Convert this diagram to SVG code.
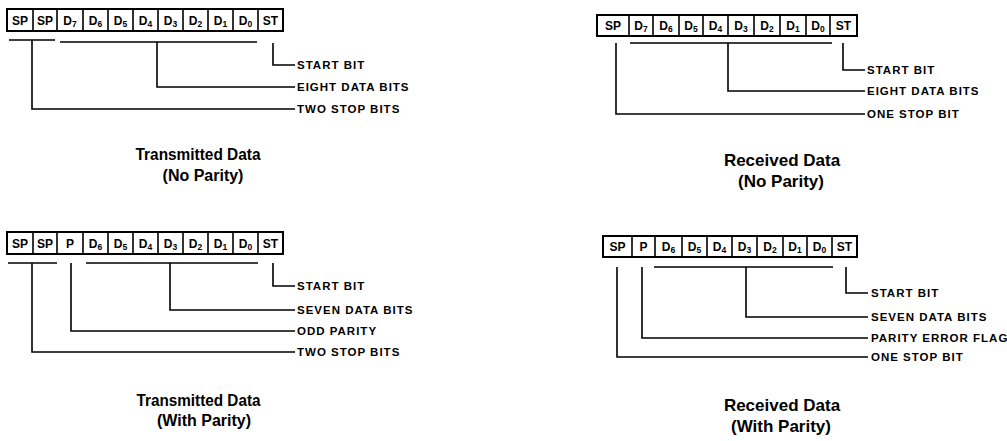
<svg xmlns="http://www.w3.org/2000/svg" width="1007" height="441" viewBox="0 0 1007 441">
<style>
.frame{fill:#fff;stroke:#000;stroke-width:2}
.div{stroke:#000;stroke-width:1.6}
.cl{font-family:"Liberation Sans",Arial,sans-serif;font-weight:bold;font-size:12px;text-anchor:middle;fill:#000}
.sub{font-size:8.5px}
.lbl{font-family:"Liberation Sans",Arial,sans-serif;font-weight:bold;font-size:11.5px;letter-spacing:1px;fill:#000}
.cap{font-family:"Liberation Sans",Arial,sans-serif;font-weight:bold;font-size:16px;text-anchor:middle;fill:#000}
.capr{font-family:"Liberation Sans",Arial,sans-serif;font-weight:bold;font-size:17px;text-anchor:middle;fill:#000}
.wire{fill:none;stroke:#000;stroke-width:1.6}
</style>
<rect width="1007" height="441" fill="#fff"/>

<g id="reg-tx-noparity">
<rect class="frame" x="7" y="9" width="276" height="22"/>
<path class="div" d="M33 9V31M57 9V31M83 9V31M108 9V31M133 9V31M158 9V31M183 9V31M208 9V31M233 9V31M258 9V31"/>
<text class="cl" x="20" y="24.5">SP</text>
<text class="cl" x="45" y="24.5">SP</text>
<text class="cl" x="70" y="24.5">D<tspan class="sub" dy="2">7</tspan></text>
<text class="cl" x="95.5" y="24.5">D<tspan class="sub" dy="2">6</tspan></text>
<text class="cl" x="120.5" y="24.5">D<tspan class="sub" dy="2">5</tspan></text>
<text class="cl" x="145.5" y="24.5">D<tspan class="sub" dy="2">4</tspan></text>
<text class="cl" x="170.5" y="24.5">D<tspan class="sub" dy="2">3</tspan></text>
<text class="cl" x="195.5" y="24.5">D<tspan class="sub" dy="2">2</tspan></text>
<text class="cl" x="220.5" y="24.5">D<tspan class="sub" dy="2">1</tspan></text>
<text class="cl" x="245.5" y="24.5">D<tspan class="sub" dy="2">0</tspan></text>
<text class="cl" x="270.5" y="24.5">ST</text>
</g>

<g id="reg-rx-noparity">
<rect class="frame" x="597" y="15" width="260" height="21"/>
<path class="div" d="M629 15V36M653 15V36M679 15V36M703 15V36M728 15V36M754 15V36M780 15V36M806 15V36M830 15V36"/>
<text class="cl" x="613" y="30">SP</text>
<text class="cl" x="641" y="30">D<tspan class="sub" dy="2">7</tspan></text>
<text class="cl" x="666" y="30">D<tspan class="sub" dy="2">6</tspan></text>
<text class="cl" x="691" y="30">D<tspan class="sub" dy="2">5</tspan></text>
<text class="cl" x="715.5" y="30">D<tspan class="sub" dy="2">4</tspan></text>
<text class="cl" x="741" y="30">D<tspan class="sub" dy="2">3</tspan></text>
<text class="cl" x="767" y="30">D<tspan class="sub" dy="2">2</tspan></text>
<text class="cl" x="793" y="30">D<tspan class="sub" dy="2">1</tspan></text>
<text class="cl" x="818" y="30">D<tspan class="sub" dy="2">0</tspan></text>
<text class="cl" x="843.5" y="30">ST</text>
</g>

<g id="reg-tx-parity">
<rect class="frame" x="7" y="232" width="276" height="22"/>
<path class="div" d="M33 232V254M57 232V254M83 232V254M108 232V254M133 232V254M158 232V254M183 232V254M208 232V254M233 232V254M258 232V254"/>
<text class="cl" x="20" y="247.5">SP</text>
<text class="cl" x="45" y="247.5">SP</text>
<text class="cl" x="70" y="247.5">P</text>
<text class="cl" x="95.5" y="247.5">D<tspan class="sub" dy="2">6</tspan></text>
<text class="cl" x="120.5" y="247.5">D<tspan class="sub" dy="2">5</tspan></text>
<text class="cl" x="145.5" y="247.5">D<tspan class="sub" dy="2">4</tspan></text>
<text class="cl" x="170.5" y="247.5">D<tspan class="sub" dy="2">3</tspan></text>
<text class="cl" x="195.5" y="247.5">D<tspan class="sub" dy="2">2</tspan></text>
<text class="cl" x="220.5" y="247.5">D<tspan class="sub" dy="2">1</tspan></text>
<text class="cl" x="245.5" y="247.5">D<tspan class="sub" dy="2">0</tspan></text>
<text class="cl" x="270.5" y="247.5">ST</text>
</g>

<g id="reg-rx-parity">
<rect class="frame" x="603" y="236" width="254" height="21"/>
<path class="div" d="M632 236V257M655 236V257M682 236V257M707 236V257M732 236V257M757 236V257M783 236V257M807 236V257M832 236V257"/>
<text class="cl" x="617.5" y="251">SP</text>
<text class="cl" x="643.5" y="251">P</text>
<text class="cl" x="668.5" y="251">D<tspan class="sub" dy="2">6</tspan></text>
<text class="cl" x="694.5" y="251">D<tspan class="sub" dy="2">5</tspan></text>
<text class="cl" x="719.5" y="251">D<tspan class="sub" dy="2">4</tspan></text>
<text class="cl" x="744.5" y="251">D<tspan class="sub" dy="2">3</tspan></text>
<text class="cl" x="770" y="251">D<tspan class="sub" dy="2">2</tspan></text>
<text class="cl" x="795" y="251">D<tspan class="sub" dy="2">1</tspan></text>
<text class="cl" x="819.5" y="251">D<tspan class="sub" dy="2">0</tspan></text>
<text class="cl" x="844.5" y="251">ST</text>
</g>

<g id="connectors">
<path class="wire" d="M9 40H55M32 40V109H295M60 42H257M157 42V87H295M273 43V65H295"/>
<path class="wire" d="M616 43V114H865M630 43H832M728 43V91H865M843 43V70H865"/>
<path class="wire" d="M8 263H57M32 263V352H295M71 263V331H295M86 263H258M170 263V310H295M273 263V286H295"/>
<path class="wire" d="M617 267V357H868M642 267V338H868M654 267H833M746 267V317H868M846 267V293H868"/>
</g>

<g id="labels-tx-noparity">
<text class="lbl" x="297" y="69">START BIT</text>
<text class="lbl" x="297" y="91">EIGHT DATA BITS</text>
<text class="lbl" x="297" y="113">TWO STOP BITS</text>
</g>
<g id="labels-rx-noparity">
<text class="lbl" x="867" y="74">START BIT</text>
<text class="lbl" x="867" y="95">EIGHT DATA BITS</text>
<text class="lbl" x="867" y="118">ONE STOP BIT</text>
</g>
<g id="labels-tx-parity">
<text class="lbl" x="297" y="290">START BIT</text>
<text class="lbl" x="297" y="314">SEVEN DATA BITS</text>
<text class="lbl" x="297" y="335">ODD PARITY</text>
<text class="lbl" x="297" y="356">TWO STOP BITS</text>
</g>
<g id="labels-rx-parity">
<text class="lbl" x="871" y="297">START BIT</text>
<text class="lbl" x="871" y="321">SEVEN DATA BITS</text>
<text class="lbl" x="871" y="342">PARITY ERROR FLAG</text>
<text class="lbl" x="871" y="361">ONE STOP BIT</text>
</g>

<g id="caption-tx-noparity">
<text class="cap" x="198" y="160" textLength="125" lengthAdjust="spacingAndGlyphs">Transmitted Data</text>
<text class="cap" x="203" y="181">(No Parity)</text>
</g>
<g id="caption-rx-noparity">
<text class="capr" x="782" y="166">Received Data</text>
<text class="capr" x="781" y="187">(No Parity)</text>
</g>
<g id="caption-tx-parity">
<text class="cap" x="198.5" y="406" textLength="124" lengthAdjust="spacingAndGlyphs">Transmitted Data</text>
<text class="cap" x="204" y="426">(With Parity)</text>
</g>
<g id="caption-rx-parity">
<text class="capr" x="782" y="411">Received Data</text>
<text class="capr" x="781" y="432">(With Parity)</text>
</g>
</svg>
